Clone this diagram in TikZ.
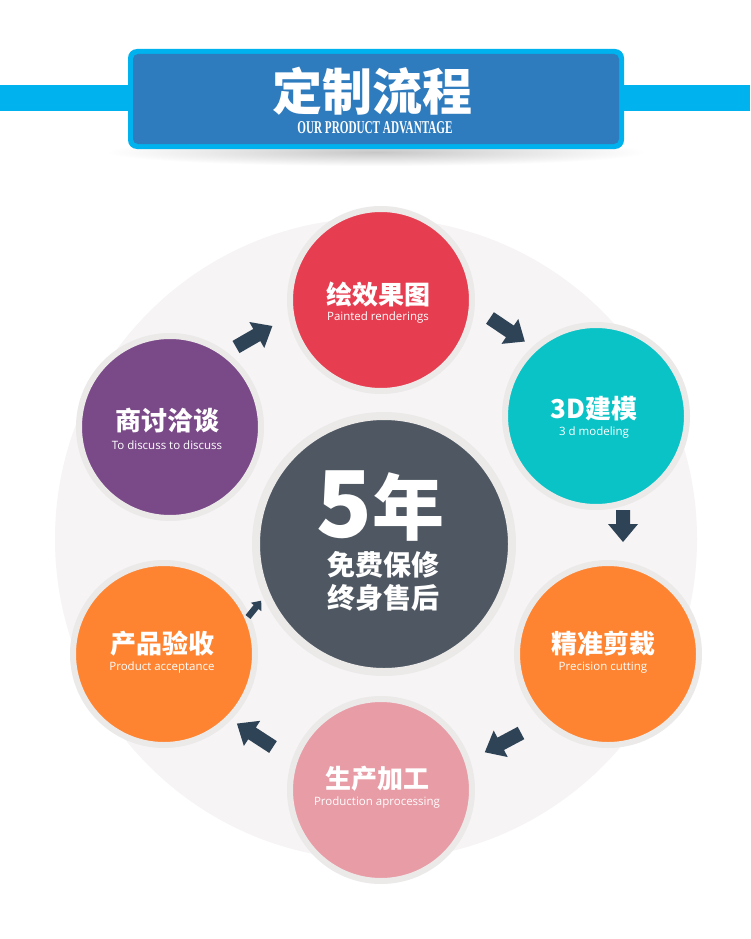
\documentclass[tikz,border=0pt]{standalone}
\usepackage{fontspec}
\usepackage{graphicx}
\setmainfont{Open Sans}
\newfontfamily\cjk{Noto Sans CJK SC}
\newfontfamily\serifb{Liberation Serif}
\definecolor{barblue}{HTML}{00B2EE}
\definecolor{boxblue}{HTML}{2E7BBE}
\definecolor{bggray}{HTML}{F6F4F5}
\definecolor{ringgray}{HTML}{ECE9E9}
\definecolor{cred}{HTML}{E63E50}
\definecolor{cteal}{HTML}{0AC3C6}
\definecolor{cpurple}{HTML}{7A4A88}
\definecolor{corange}{HTML}{FE8431}
\definecolor{cpink}{HTML}{E89CA6}
\definecolor{cdark}{HTML}{4F5862}
\definecolor{arrowc}{HTML}{2F4356}
\newcommand\flowarrow[5]{%
  \begin{scope}[shift={(#1,#2)}, rotate=#3]
    \fill[arrowc] (0,{-7*#5}) -- ({#4-18*#5},{-7*#5}) -- ({#4-18*#5},{-15*#5}) -- (#4,0)
      -- ({#4-18*#5},{15*#5}) -- ({#4-18*#5},{7*#5}) -- (0,{7*#5}) -- cycle;
  \end{scope}}
\tikzset{
  stepcircle/.style={circle, minimum size=182pt, inner sep=0pt, draw=ringgray, line width=6pt},
  cntitle/.style={text=white, font=\cjk\bfseries\fontsize{26}{28}\selectfont, inner sep=0pt},
  ensub/.style={text=white, font=\fontsize{11.5}{13}\selectfont, inner sep=0pt},
}
\begin{document}
\begin{tikzpicture}[x=1pt,y=-1pt]
\useasboundingbox (0,0) rectangle (750,939);
\fill[white] (0,0) rectangle (750,939);
% header
\fill[barblue] (0,85) rectangle (750,111);
\shade[inner color=black!22, outer color=white] (376,152) ellipse [x radius=270, y radius=14];
\fill[barblue, rounded corners=9] (128,49) rectangle (624,149);
\fill[boxblue, rounded corners=5] (133,54) rectangle (619,144);
\node[text=white, font=\cjk\bfseries\fontsize{50}{52}\selectfont, inner sep=0pt] (title) at (372,91) {定制流程};
\node[text=white, inner sep=0pt] (subtitle) at (375,128) {\scalebox{0.62}[1]{\serifb\bfseries\fontsize{18}{18}\selectfont OUR PRODUCT ADVANTAGE}};
% background circle
\fill[bggray] (376,539) circle (321);
% step circles
\node[stepcircle, fill=cred] (c1) at (381,300) {};
\node[stepcircle, fill=cteal] (c2) at (596,416) {};
\node[stepcircle, fill=corange] (c3) at (608,654) {};
\node[stepcircle, fill=cpink] (c4) at (381,790) {};
\node[stepcircle, fill=corange] (c5) at (164,654) {};
\node[stepcircle, fill=cpurple] (c6) at (170,427) {};
\node[circle, minimum size=256pt, inner sep=0pt, draw=ringgray, line width=8pt, fill=cdark] (mid) at (384,544) {};
% texts
\node[cntitle] (t1) at (378,295) {绘效果图};
\node[ensub] (s1) at (378,318) {Painted renderings};
\node[cntitle] (t2) at (594,409) {3D建模};
\node[ensub] (s2) at (594,433) {3 d modeling};
\node[cntitle] (t3) at (603,644) {精准剪裁};
\node[ensub] (s3) at (603,668) {Precision cutting};
\node[cntitle] (t4) at (377,779) {生产加工};
\node[ensub] (s4) at (377,803) {Production aprocessing};
\node[cntitle] (t5) at (162,644) {产品验收};
\node[ensub] (s5) at (162,668) {Product acceptance};
\node[cntitle] (t6) at (167,421) {商讨洽谈};
\node[ensub] (s6) at (167,445) {To discuss to discuss};
\node[text=white, font=\cjk\bfseries\fontsize{92}{92}\selectfont, inner sep=0pt] (five) at (345,505) {5};
\node[text=white, font=\cjk\bfseries\fontsize{72}{72}\selectfont, inner sep=0pt] (nian) at (408,507) {年};
\node[text=white, font=\cjk\bfseries\fontsize{28}{30}\selectfont, inner sep=0pt] (m1) at (383,565) {免费保修};
\node[text=white, font=\cjk\bfseries\fontsize{28}{30}\selectfont, inner sep=0pt] (m2) at (383,598) {终身售后};
% arrows
\flowarrow{236}{347}{30}{42}{1}
\flowarrow{490}{318}{-34}{42}{1}
\flowarrow{623}{510}{-90}{32}{1}
\flowarrow{521}{733}{208}{41}{1}
\flowarrow{273}{747}{147}{43}{1}
\flowarrow{248}{617}{51}{21}{0.45}
\end{tikzpicture}
\end{document}
